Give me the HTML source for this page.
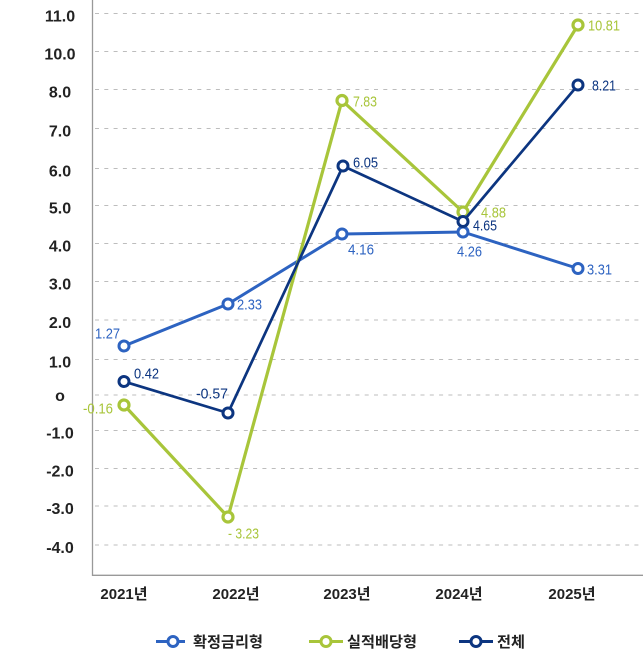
<!DOCTYPE html>
<html><head><meta charset="utf-8"><style>
html,body{margin:0;padding:0;background:#fff;}
svg{display:block;}
text{font-family:"Liberation Sans","Noto Sans CJK KR",sans-serif;}
</style></head><body>
<svg width="643" height="659" viewBox="0 0 643 659" xmlns="http://www.w3.org/2000/svg">
<g stroke="#bdbdbd" stroke-width="1" stroke-dasharray="4,5.3">
<line x1="95" x2="643" y1="13.5" y2="13.5"/>
<line x1="95" x2="643" y1="51.5" y2="51.5"/>
<line x1="95" x2="643" y1="89.5" y2="89.5"/>
<line x1="95" x2="643" y1="128.5" y2="128.5"/>
<line x1="95" x2="643" y1="168.5" y2="168.5"/>
<line x1="95" x2="643" y1="205.5" y2="205.5"/>
<line x1="95" x2="643" y1="243.5" y2="243.5"/>
<line x1="95" x2="643" y1="281.5" y2="281.5"/>
<line x1="95" x2="643" y1="320" y2="320"/>
<line x1="95" x2="643" y1="359.5" y2="359.5"/>
<line x1="95" x2="643" y1="395" y2="395"/>
<line x1="95" x2="643" y1="430.5" y2="430.5"/>
<line x1="95" x2="643" y1="468.5" y2="468.5"/>
<line x1="95" x2="643" y1="506" y2="506"/>
<line x1="95" x2="643" y1="545" y2="545"/>
</g>
<line x1="92.5" y1="0" x2="92.5" y2="576" stroke="#999" stroke-width="1.3"/>
<line x1="92" y1="575.3" x2="643" y2="575.3" stroke="#999" stroke-width="1.3"/>

<g font-size="16" font-weight="bold" fill="#222" text-anchor="middle">
<text x="60" y="21.5">11.0</text>
<text x="60" y="59.5">10.0</text>
<text x="60" y="97.5">8.0</text>
<text x="60" y="136.5">7.0</text>
<text x="60" y="176.5">6.0</text>
<text x="60" y="213.5">5.0</text>
<text x="60" y="251.5">4.0</text>
<text x="60" y="289.5">3.0</text>
<text x="60" y="328">2.0</text>
<text x="60" y="367.5">1.0</text>
<text x="60" y="401">o</text>
<text x="60" y="438.5">-1.0</text>
<text x="60" y="476.5">-2.0</text>
<text x="60" y="514">-3.0</text>
<text x="60" y="553">-4.0</text>
</g>

<g font-size="15" font-weight="bold" fill="#222" text-anchor="middle">
<text x="124" y="599">2021년</text>
<text x="236" y="599">2022년</text>
<text x="347" y="599">2023년</text>
<text x="459" y="599">2024년</text>
<text x="572" y="599">2025년</text>
</g>

<polyline points="124,346 228,304 342,234 463,232 578,268.5" fill="none" stroke="#2d63c1" stroke-width="3" stroke-linejoin="round"/>
<g fill="#fff" stroke="#2d63c1" stroke-width="3">
<circle cx="124" cy="346" r="5"/><circle cx="228" cy="304" r="5"/><circle cx="342" cy="234" r="5"/><circle cx="463" cy="232" r="5"/><circle cx="578" cy="268.5" r="5"/>
</g>
<polyline points="124,405 228,517 342,100.5 463,212 578,25" fill="none" stroke="#a8c53a" stroke-width="3.2" stroke-linejoin="round"/>
<g fill="#fff" stroke="#a8c53a" stroke-width="3.2">
<circle cx="124" cy="405" r="5"/><circle cx="228" cy="517" r="5"/><circle cx="342" cy="100.5" r="5"/><circle cx="463" cy="212" r="5"/><circle cx="578" cy="25" r="5"/>
</g>
<polyline points="124,381.5 228,413 343,166 463,221.5 578,85" fill="none" stroke="#0c3580" stroke-width="2.7" stroke-linejoin="round"/>
<g fill="#fff" stroke="#0c3580" stroke-width="3">
<circle cx="124" cy="381.5" r="5"/><circle cx="228" cy="413" r="5"/><circle cx="343" cy="166" r="5"/><circle cx="463" cy="221.5" r="5"/><circle cx="578" cy="85" r="5"/>
</g>

<g font-size="15">
<text x="95" y="338.5" fill="#2d63c1" textLength="25" lengthAdjust="spacingAndGlyphs">1.27</text>
<text x="237" y="309.5" fill="#2d63c1" textLength="25" lengthAdjust="spacingAndGlyphs">2.33</text>
<text x="348" y="254.5" fill="#2d63c1" textLength="26" lengthAdjust="spacingAndGlyphs">4.16</text>
<text x="457" y="256.5" fill="#2d63c1" textLength="25" lengthAdjust="spacingAndGlyphs">4.26</text>
<text x="587" y="274.5" fill="#2d63c1" textLength="25" lengthAdjust="spacingAndGlyphs">3.31</text>

<text x="83" y="413.5" fill="#a8c53a" textLength="30" lengthAdjust="spacingAndGlyphs">-0.16</text>
<text x="228" y="538.5" fill="#a8c53a" textLength="31" lengthAdjust="spacingAndGlyphs">- 3.23</text>
<text x="353" y="106.5" fill="#a8c53a" textLength="24" lengthAdjust="spacingAndGlyphs">7.83</text>
<text x="481" y="217.5" fill="#a8c53a" textLength="25" lengthAdjust="spacingAndGlyphs">4.88</text>
<text x="588" y="30.5" fill="#a8c53a" textLength="32" lengthAdjust="spacingAndGlyphs">10.81</text>

<text x="134" y="378.5" fill="#0c3580" textLength="25" lengthAdjust="spacingAndGlyphs">0.42</text>
<text x="196" y="398.5" fill="#0c3580" textLength="32" lengthAdjust="spacingAndGlyphs">-0.57</text>
<text x="353" y="167.5" fill="#0c3580" textLength="25" lengthAdjust="spacingAndGlyphs">6.05</text>
<text x="473" y="230.5" fill="#0c3580" textLength="24" lengthAdjust="spacingAndGlyphs">4.65</text>
<text x="592" y="90.5" fill="#0c3580" textLength="24" lengthAdjust="spacingAndGlyphs">8.21</text>
</g>

<line x1="156" y1="641.5" x2="185" y2="641.5" stroke="#2d63c1" stroke-width="3"/>
<circle cx="173" cy="641.5" r="5" fill="#fff" stroke="#2d63c1" stroke-width="3"/>
<text x="193" y="647" font-size="15" font-weight="bold" fill="#222" textLength="70" lengthAdjust="spacingAndGlyphs">확정금리형</text>

<line x1="309" y1="641.5" x2="343" y2="641.5" stroke="#a8c53a" stroke-width="3"/>
<circle cx="326" cy="641.5" r="5" fill="#fff" stroke="#a8c53a" stroke-width="3"/>
<text x="347" y="647" font-size="15" font-weight="bold" fill="#222" textLength="70" lengthAdjust="spacingAndGlyphs">실적배당형</text>

<line x1="459" y1="641.5" x2="493" y2="641.5" stroke="#0c3580" stroke-width="3"/>
<circle cx="476" cy="641.5" r="5" fill="#fff" stroke="#0c3580" stroke-width="3"/>
<text x="497" y="647" font-size="15" font-weight="bold" fill="#222" textLength="28" lengthAdjust="spacingAndGlyphs">전체</text>
</svg>
</body></html>
